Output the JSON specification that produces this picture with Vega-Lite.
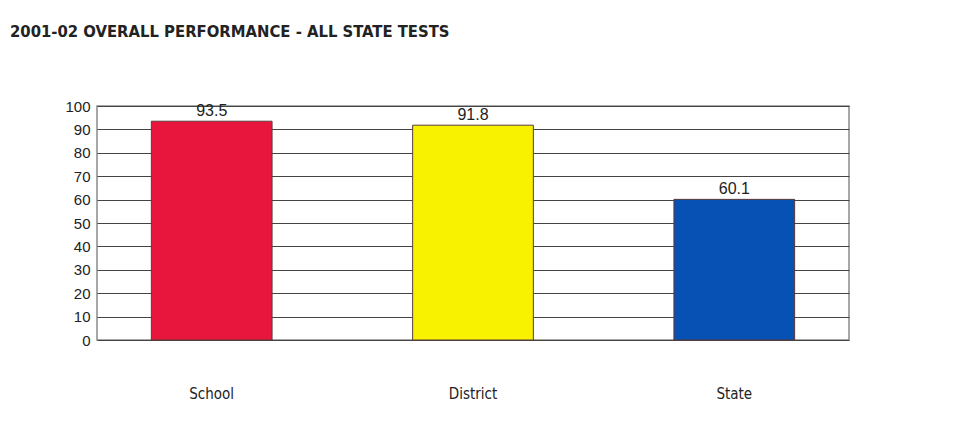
{
  "$schema": "https://vega.github.io/schema/vega-lite/v6.json",
  "autosize": {"type": "none"},
  "padding": {"left": 97, "top": 106, "right": 113, "bottom": 81},
  "width": 752,
  "height": 234,
  "background": "white",
  "title": {
    "text": "2001-02 OVERALL PERFORMANCE - ALL STATE TESTS",
    "anchor": "start",
    "frame": "group",
    "dx": -87,
    "offset": 59,
    "font": "DejaVu Sans Condensed, Liberation Sans Narrow, sans-serif",
    "fontSize": 16.5,
    "fontWeight": "bold",
    "color": "#222222"
  },
  "data": {
    "values": [
      {"group": "School", "value": 93.5},
      {"group": "District", "value": 91.8},
      {"group": "State", "value": 60.1}
    ]
  },
  "config": {
    "view": {"stroke": "#8a8a8a", "strokeWidth": 1.5}
  },
  "encoding": {
    "x": {
      "field": "group",
      "type": "nominal",
      "sort": null,
      "scale": {"paddingInner": 0.538, "paddingOuter": 0.208},
      "axis": {
        "title": null,
        "labelAngle": 0,
        "domain": false,
        "ticks": false,
        "labelPadding": 46,
        "labelFont": "DejaVu Sans Condensed, Liberation Sans Narrow, sans-serif",
        "labelFontSize": 15,
        "labelColor": "#222222"
      }
    },
    "y": {
      "field": "value",
      "type": "quantitative",
      "scale": {"domain": [0, 100], "nice": false},
      "axis": {
        "title": null,
        "values": [0, 10, 20, 30, 40, 50, 60, 70, 80, 90, 100],
        "domain": false,
        "ticks": false,
        "labelPadding": 7,
        "labelFont": "Liberation Sans, Arial, sans-serif",
        "labelFontSize": 15,
        "labelColor": "#222222",
        "gridColor": "#444444",
        "gridWidth": 1,
        "gridOpacity": 1
      }
    }
  },
  "layer": [
    {
      "mark": {"type": "bar", "stroke": "#5a3a3a", "strokeWidth": 1},
      "encoding": {
        "color": {
          "field": "group",
          "type": "nominal",
          "scale": {"domain": ["School", "District", "State"], "range": ["#E8163C", "#F8F200", "#0651B3"]},
          "legend": null
        }
      }
    },
    {
      "mark": {"type": "text", "baseline": "alphabetic", "dy": -5, "font": "Liberation Sans, Arial, sans-serif", "fontSize": 16, "color": "#222222"},
      "encoding": {"text": {"field": "value", "type": "quantitative", "format": ".1f"}}
    }
  ]
}
